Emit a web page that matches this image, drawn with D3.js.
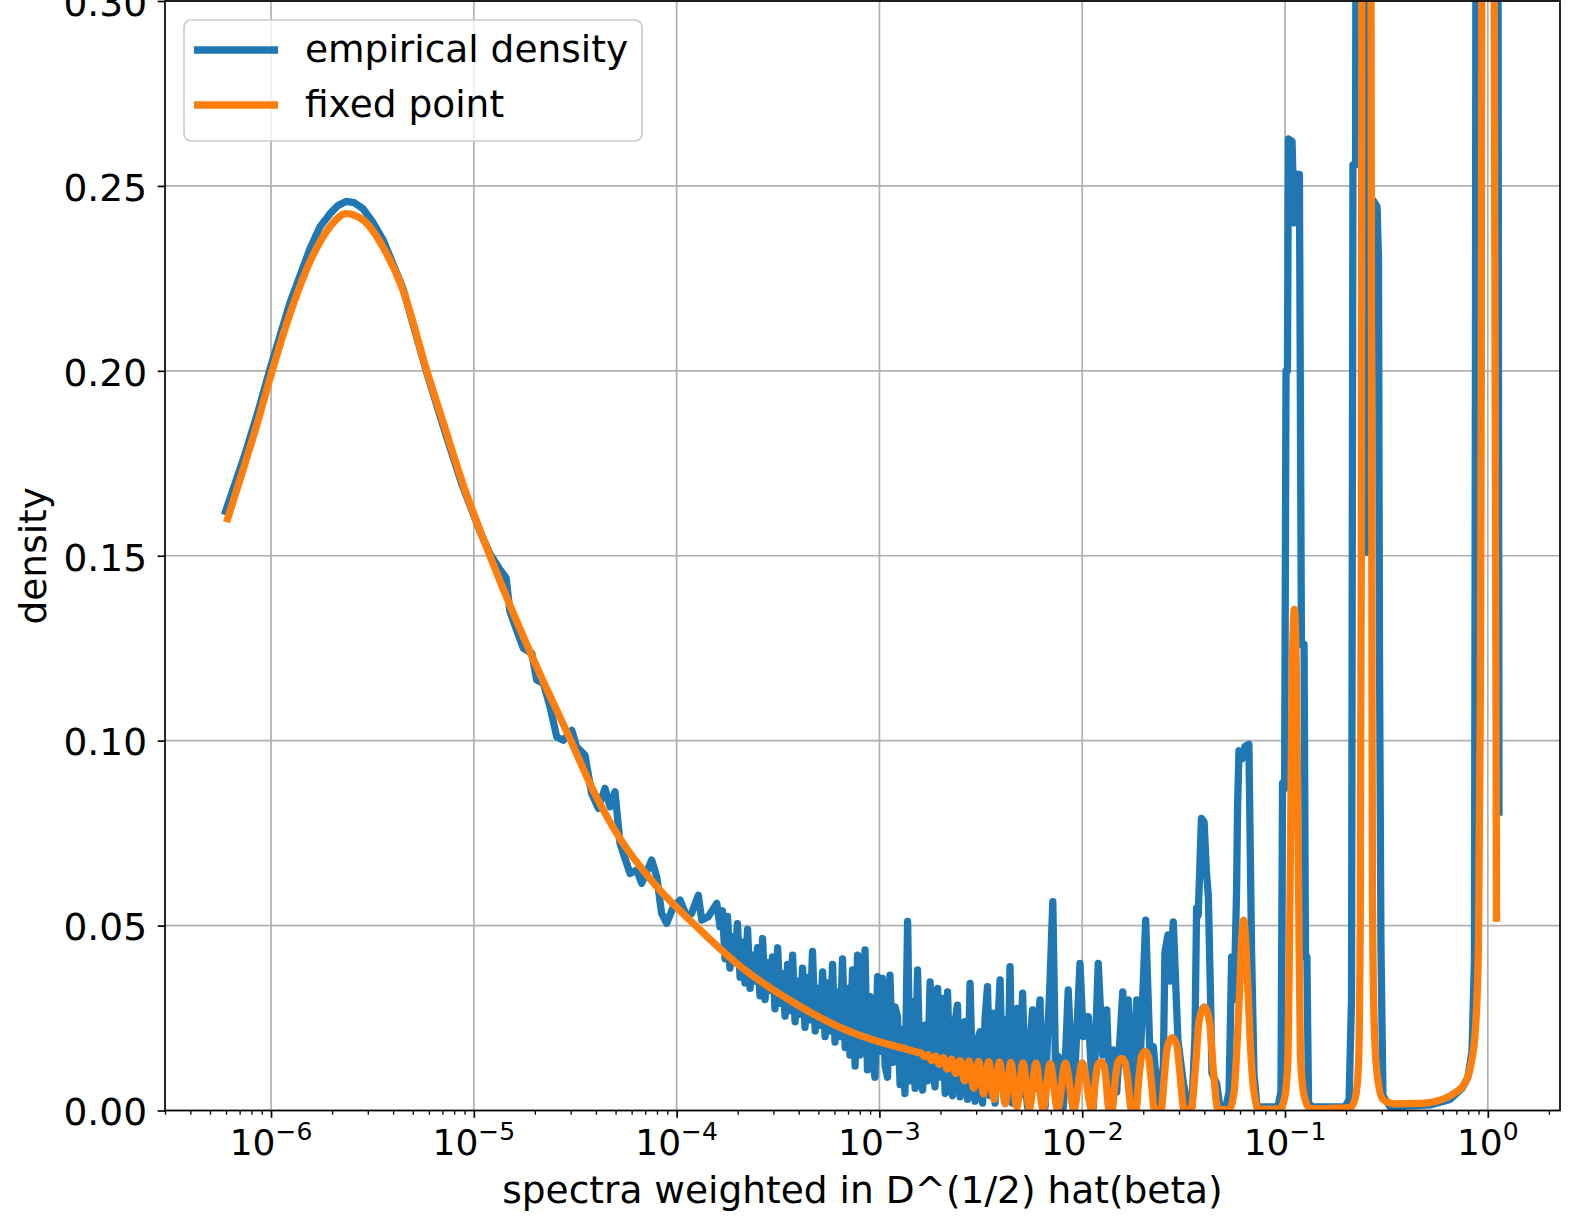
<!DOCTYPE html>
<html>
<head>
<meta charset="utf-8">
<script src="https://cdnjs.cloudflare.com/ajax/libs/d3/7.8.5/d3.min.js"></script>
<style>
  body { margin: 0; background: #fff; }
  svg { display: block; font-family: "DejaVu Sans", sans-serif; }
</style>
</head>
<body>
<div id="chart"></div>
<script>
// Fixed point density: log10(x) and density
var fixedLogX = [
  -6.214, -6.128, -6.064, -6.005, -5.906, -5.808, -5.709, -5.630, -5.546, -5.448,
  -5.349, -5.232, -5.142, -5.060, -4.920, -4.805, -4.674, -4.526, -4.411, -4.279,
  -4.115, -3.901, -3.687, -3.441, -3.145, -2.997, -2.880, -2.815,
  -2.796, -2.778, -2.760, -2.742, -2.723, -2.704, -2.685, -2.665,
  -2.644, -2.623, -2.602, -2.580, -2.558, -2.535, -2.511, -2.486, -2.461, -2.435,
  -2.408, -2.380, -2.352, -2.322, -2.292, -2.260, -2.228, -2.193, -2.158, -2.121,
  -2.083, -2.041, -2.000,
  -1.952, -1.934, -1.925, -1.908, -1.892, -1.883, -1.868,
  -1.853, -1.836, -1.824, -1.806, -1.789, -1.777, -1.757,
  -1.735, -1.720, -1.708, -1.690, -1.673, -1.661, -1.644,
  -1.611, -1.594, -1.579, -1.556, -1.533, -1.518, -1.498,
  -1.464, -1.441, -1.424, -1.398, -1.372, -1.355, -1.330,
  -1.276, -1.251, -1.239, -1.224, -1.214, -1.204, -1.194, -1.182, -1.168, -1.153, -1.128,
  -1.025, -1.000, -0.985, -0.975, -0.965, -0.954, -0.943, -0.933, -0.924, -0.906, -0.877,
  -0.778, -0.680, -0.655, -0.638, -0.629, -0.624, -0.621, -0.601, -0.576, -0.572,
  -0.569, -0.561, -0.546, -0.517, -0.458, -0.334, -0.236, -0.162, -0.112, -0.083,
  -0.061, -0.046, -0.037, -0.032, -0.030, 0.001, 0.031, 0.043
];
var fixedY = [
  0.160, 0.175, 0.1865, 0.198, 0.2155, 0.2295, 0.2390, 0.2425, 0.2408, 0.2335,
  0.2218, 0.2000, 0.1845, 0.1704, 0.1499, 0.1344, 0.1180, 0.1005, 0.0865, 0.0735,
  0.0616, 0.0497, 0.0390, 0.0298, 0.0213, 0.0185, 0.0168, 0.0158,
  0.0156, 0.0146, 0.0151, 0.0135, 0.0147, 0.0125, 0.0143, 0.0112,
  0.0139, 0.0100, 0.0135, 0.0080, 0.0134, 0.0060, 0.0133, 0.0045, 0.0132, 0.0030,
  0.0131, 0.0018, 0.0130, 0.0010, 0.0129, 0.0006, 0.0128, 0.0004, 0.0127, 0.0003,
  0.0128, 0.0003, 0.0129,
  0.0002, 0.0085, 0.0120, 0.0132, 0.0120, 0.0085, 0.0002,
  0.0002, 0.0090, 0.0130, 0.0141, 0.0130, 0.0090, 0.0002,
  0.0002, 0.0090, 0.0145, 0.0160, 0.0145, 0.0090, 0.0002,
  0.0002, 0.0100, 0.0175, 0.0197, 0.0175, 0.0100, 0.0002,
  0.0002, 0.0120, 0.0240, 0.0280, 0.0240, 0.0120, 0.0002,
  0.0003, 0.0050, 0.0150, 0.0320, 0.0460, 0.0515, 0.0460, 0.0320, 0.0150, 0.0050, 0.0003,
  0.0004, 0.0040, 0.0150, 0.0600, 0.1150, 0.1355, 0.1150, 0.0600, 0.0150, 0.0040, 0.0005,
  0.0006, 0.0008, 0.0030, 0.0120, 0.0500, 0.1500, 0.3100, 0.6000, 0.3100, 0.1500,
  0.0600, 0.0250, 0.0100, 0.0030, 0.0018, 0.0019, 0.0028, 0.0048, 0.0075, 0.0125,
  0.0220, 0.0450, 0.1100, 0.2000, 0.3100, 0.9000, 0.3100, 0.0520
];

// Empirical density: log10(x) and density
var empiricalLogX = [
  // smooth body
  -6.224, -6.128, -6.064, -6.005, -5.906, -5.808, -5.758, -5.709, -5.670, -5.630,
  -5.591, -5.546, -5.502, -5.448, -5.349, -5.232, -5.142, -5.060, -4.969, -4.920,
  -4.871, -4.841, -4.822, -4.789, -4.756, -4.714, -4.690, -4.657, -4.624, -4.591,
  -4.559, -4.517, -4.493, -4.452, -4.419, -4.386, -4.353, -4.328, -4.304, -4.279,
  -4.230, -4.197, -4.172, -4.123, -4.098, -4.074, -4.049, -4.016, -3.983, -3.950,
  -3.926, -3.893, -3.876, -3.844, -3.802, -3.786,
  // noisy band up to 1e-3
  -3.774, -3.761, -3.749, -3.737, -3.724, -3.712, -3.700, -3.687, -3.675, -3.663,
  -3.650, -3.638, -3.626, -3.613, -3.601, -3.589, -3.576, -3.564, -3.552, -3.539,
  -3.527, -3.515, -3.502, -3.490, -3.478, -3.465, -3.453, -3.441, -3.428, -3.416,
  -3.404, -3.391, -3.379, -3.367, -3.354, -3.342, -3.330, -3.317, -3.305, -3.293,
  -3.280, -3.268, -3.256, -3.243, -3.231, -3.219, -3.206, -3.194, -3.182, -3.169,
  -3.157, -3.145,
  // noisy band 1e-3 to 1e-2
  -3.133, -3.120, -3.108, -3.096, -3.083, -3.071, -3.059, -3.046, -3.034, -3.022,
  -3.009, -2.997, -2.985, -2.972, -2.960, -2.948, -2.935, -2.923, -2.911, -2.898,
  -2.886, -2.874, -2.861, -2.849, -2.837, -2.824, -2.812, -2.800, -2.787, -2.775,
  -2.763, -2.750, -2.738, -2.726, -2.713, -2.701, -2.689, -2.676, -2.664, -2.652,
  -2.639, -2.627, -2.615, -2.602, -2.590, -2.578, -2.565, -2.553, -2.541, -2.528,
  -2.516, -2.504, -2.491, -2.479, -2.467, -2.455, -2.442, -2.430, -2.418, -2.405,
  -2.393, -2.381, -2.368, -2.356, -2.344, -2.331, -2.319, -2.307, -2.294, -2.282,
  -2.270, -2.257, -2.245, -2.233, -2.220, -2.208, -2.196, -2.183, -2.171, -2.159,
  // clusters
  -2.145, -2.129, -2.118, -2.093, -2.069, -2.044, -2.011, -1.995, -1.970, -1.945,
  -1.921, -1.899, -1.879, -1.863, -1.847, -1.830, -1.800, -1.784, -1.773, -1.751,
  -1.731, -1.715, -1.687, -1.666, -1.649, -1.625, -1.600, -1.592, -1.577, -1.567,
  -1.551, -1.528, -1.501, -1.478,
  -1.459, -1.444, -1.436, -1.428, -1.419, -1.412, -1.399, -1.387, -1.378, -1.367,
  -1.360, -1.337, -1.321,
  -1.291, -1.276, -1.263, -1.251, -1.239, -1.234, -1.227, -1.212, -1.197, -1.178,
  -1.165, -1.153, -1.138,
  -1.035, -1.020, -1.012, -1.002, -0.995, -0.988, -0.983, -0.965, -0.956, -0.943,
  -0.929, -0.919, -0.906, -0.899, -0.892, -0.884, -0.867,
  -0.704, -0.684, -0.672, -0.665, -0.652, -0.647, -0.606, -0.598, -0.591, -0.564,
  -0.546, -0.539, -0.534, -0.527, -0.517, -0.482,
  -0.285, -0.186, -0.127, -0.098, -0.078, -0.066, -0.061, -0.056, 0.048, 0.055
];
var empiricalY = [
  0.162, 0.1775, 0.189, 0.2005, 0.2185, 0.2330, 0.2390, 0.2425, 0.2447, 0.2458,
  0.2455, 0.2438, 0.2405, 0.2355, 0.2222, 0.1995, 0.1835, 0.1695, 0.1565, 0.1505,
  0.1462, 0.1440, 0.1350, 0.1299, 0.1250, 0.1236, 0.1164, 0.1155, 0.1091, 0.1010,
  0.1001, 0.1028, 0.0983, 0.0961, 0.0857, 0.0817, 0.0871, 0.0821, 0.0862, 0.0722,
  0.0641, 0.0650, 0.0614, 0.0677, 0.0632, 0.0533, 0.0506, 0.0551, 0.0569, 0.0524,
  0.0533, 0.0582, 0.0515, 0.0524, 0.0560, 0.0497,

  0.0540, 0.0410, 0.0525, 0.0385, 0.0470, 0.0400, 0.0505, 0.0360, 0.0455, 0.0345,
  0.0490, 0.0330, 0.0420, 0.0350, 0.0440, 0.0310, 0.0465, 0.0300, 0.0400, 0.0325,
  0.0415, 0.0275, 0.0440, 0.0290, 0.0370, 0.0255, 0.0395, 0.0270, 0.0420, 0.0240,
  0.0350, 0.0260, 0.0385, 0.0225, 0.0360, 0.0245, 0.0430, 0.0215, 0.0330, 0.0230,
  0.0375, 0.0200, 0.0345, 0.0215, 0.0395, 0.0185, 0.0320, 0.0200, 0.0410, 0.0170,
  0.0330, 0.0150,

  0.0380, 0.0120, 0.0420, 0.0150, 0.0300, 0.0434, 0.0110, 0.0308, 0.0140, 0.0090,
  0.0362, 0.0160, 0.0357, 0.0120, 0.0090, 0.0366, 0.0130, 0.0280, 0.0254, 0.0070,
  0.0220, 0.0046, 0.0511, 0.0080, 0.0294, 0.0060, 0.0380, 0.0100, 0.0055, 0.0231,
  0.0080, 0.0348, 0.0120, 0.0064, 0.0330, 0.0090, 0.0303, 0.0046, 0.0321, 0.0070,
  0.0040, 0.0240, 0.0285, 0.0037, 0.0180, 0.0240, 0.0030, 0.0344, 0.0080, 0.0025,
  0.0190, 0.0213, 0.0020, 0.0250, 0.0335, 0.0040, 0.0263, 0.0020, 0.0210, 0.0353,
  0.0060, 0.0245, 0.0030, 0.0389, 0.0020, 0.0150, 0.0276, 0.0040, 0.0317, 0.0090,
  0.0010, 0.0180, 0.0272, 0.0060, 0.0220, 0.0299, 0.0030, 0.0010, 0.0200, 0.0344,

  0.0565, 0.0020, 0.0146, 0.0010, 0.0326, 0.0010, 0.0398, 0.0200, 0.0254, 0.0010,
  0.0398, 0.0150, 0.0272, 0.0010, 0.0164, 0.0050, 0.0321, 0.0120, 0.0299, 0.0010,
  0.0299, 0.0120, 0.0515, 0.0150, 0.0173, 0.0010, 0.0120, 0.0429, 0.0475, 0.0350,
  0.0510, 0.0190, 0.0073, 0.0010,
  0.0010, 0.0200, 0.0547, 0.0528, 0.0677, 0.0790, 0.0780, 0.0640, 0.0580, 0.0300,
  0.0100, 0.0073, 0.0010,
  0.0010, 0.0050, 0.0415, 0.0300, 0.0590, 0.0816, 0.0973, 0.0950, 0.0985, 0.0990,
  0.0434, 0.0100, 0.0010,
  0.0010, 0.0050, 0.0885, 0.0870, 0.2000, 0.2000, 0.2627, 0.2620, 0.2400, 0.2531,
  0.2531, 0.1260, 0.1260, 0.0415, 0.0415, 0.0020, 0.0010,
  0.0010, 0.0030, 0.0300, 0.2557, 0.2557, 0.4500, 0.4500, 0.1510, 0.1510, 0.2460,
  0.2444, 0.2300, 0.1220, 0.0450, 0.0040, 0.0010,
  0.0015, 0.0030, 0.0060, 0.0090, 0.0160, 0.0400, 0.2000, 0.4500, 0.4500, 0.0807
];

var seriesNames = ["empirical density", "fixed point"];
var yTicks = [0, 0.05, 0.10, 0.15, 0.20, 0.25, 0.30];
var xTickExponents = [-6, -5, -4, -3, -2, -1, 0];

// Styles
var colors = { empirical: "#1f77b4", fixed: "#ff7f0e", grid: "#b0b0b0" };
var lineWidth = 7.3,
    fontSize = 37.5;

// Plot area
var width = 1579, height = 1230;
var plot = { left: 165, right: 1560, top: 1, bottom: 1110.5 };

var x = d3.scaleLog()
  .domain([3e-7, 2.27])
  .range([plot.left, plot.right]);

var y = d3.scaleLinear()
  .domain([0, 0.30])
  .range([plot.bottom, plot.top]);

function zip(logXs, ys) {
  return logXs.map(function(lx, i) { return { x: Math.pow(10, lx), y: ys[i] }; });
}

var empirical = zip(empiricalLogX, empiricalY),
    fixed = zip(fixedLogX, fixedY);

var svg = d3.select("#chart").append("svg")
  .attr("width", width)
  .attr("height", height);

svg.append("defs").append("clipPath")
  .attr("id", "plot-clip")
  .append("rect")
    .attr("x", plot.left)
    .attr("y", plot.top)
    .attr("width", plot.right - plot.left)
    .attr("height", plot.bottom - plot.top);

// Grid
var majorX = xTickExponents.map(function(e) { return Math.pow(10, e); });

svg.append("g").selectAll("line.vgrid")
  .data(majorX).enter()
  .append("line")
    .attr("x1", function(d) { return x(d); })
    .attr("x2", function(d) { return x(d); })
    .attr("y1", plot.top)
    .attr("y2", plot.bottom)
    .attr("stroke", colors.grid)
    .attr("stroke-width", 1.7);

svg.append("g").selectAll("line.hgrid")
  .data(yTicks).enter()
  .append("line")
    .attr("x1", plot.left)
    .attr("x2", plot.right)
    .attr("y1", function(d) { return y(d); })
    .attr("y2", function(d) { return y(d); })
    .attr("stroke", colors.grid)
    .attr("stroke-width", 1.7);

// Lines
var content = svg.append("g").attr("clip-path", "url(#plot-clip)");

var empiricalLine = d3.line()
  .x(function(d) { return x(d.x); })
  .y(function(d) { return y(d.y); });

var fixedLine = d3.line()
  .curve(d3.curveMonotoneX)
  .x(function(d) { return x(d.x); })
  .y(function(d) { return y(d.y); });

content.append("path")
  .datum(empirical)
  .attr("d", empiricalLine)
  .attr("fill", "none")
  .attr("stroke", colors.empirical)
  .attr("stroke-width", lineWidth)
  .attr("stroke-linejoin", "round")
  .attr("stroke-linecap", "square");

content.append("path")
  .datum(fixed)
  .attr("d", fixedLine)
  .attr("fill", "none")
  .attr("stroke", colors.fixed)
  .attr("stroke-width", lineWidth)
  .attr("stroke-linejoin", "round")
  .attr("stroke-linecap", "square");

// Spines
svg.append("rect")
  .attr("x", plot.left)
  .attr("y", plot.top)
  .attr("width", plot.right - plot.left)
  .attr("height", plot.bottom - plot.top)
  .attr("fill", "none")
  .attr("stroke", "#000")
  .attr("stroke-width", 1.7);

// Y axis
var yAxis = svg.append("g")
  .attr("transform", "translate(" + plot.left + ",0)")
  .call(d3.axisLeft(y).tickValues(yTicks).tickFormat(d3.format(".2f")).tickSize(7.3).tickPadding(10.7));

yAxis.select(".domain").remove();
yAxis.selectAll(".tick line").attr("stroke", "#000").attr("stroke-width", 1.7);
yAxis.selectAll(".tick text")
  .attr("dy", "0.38em")
  .attr("fill", "#000")
  .style("font-size", fontSize + "px")
  .style("font-family", "DejaVu Sans");

// X axis: major and minor ticks
var minorX = x.ticks().filter(function(d) {
  var e = Math.log10(d);
  return Math.abs(e - Math.round(e)) > 1e-6;
});

var xMinor = svg.append("g")
  .attr("transform", "translate(0," + plot.bottom + ")")
  .call(d3.axisBottom(x).tickValues(minorX).tickFormat("").tickSize(4.2));
xMinor.select(".domain").remove();
xMinor.selectAll(".tick line").attr("stroke", "#000").attr("stroke-width", 1.3);

var xMajor = svg.append("g")
  .attr("transform", "translate(0," + plot.bottom + ")")
  .call(d3.axisBottom(x).tickValues(majorX).tickFormat("").tickSize(7.3));
xMajor.select(".domain").remove();
xMajor.selectAll(".tick line").attr("stroke", "#000").attr("stroke-width", 1.7);

// Tick labels as 10^e
var xLabels = svg.append("g").selectAll("text")
  .data(xTickExponents).enter()
  .append("text")
    .attr("x", function(e) { return x(Math.pow(10, e)); })
    .attr("y", 1155)
    .attr("text-anchor", "middle")
    .attr("fill", "#000");

xLabels.append("tspan")
  .style("font-size", "36px")
  .text("10");

xLabels.append("tspan")
  .attr("dy", -15)
  .style("font-size", "25px")
  .text(function(e) { return e < 0 ? "\u2212" + (-e) : String(e); });

// Axis labels
svg.append("text")
  .attr("x", (plot.left + plot.right) / 2)
  .attr("y", 1203)
  .attr("text-anchor", "middle")
  .style("font-size", fontSize + "px")
  .text("spectra weighted in D^(1/2) hat(beta)");

svg.append("text")
  .attr("transform", "translate(46," + ((plot.top + plot.bottom) / 2) + ") rotate(-90)")
  .attr("text-anchor", "middle")
  .style("font-size", fontSize + "px")
  .text("density");

// Legend
var legend = svg.append("g");

legend.append("rect")
  .attr("x", 184)
  .attr("y", 20)
  .attr("width", 458)
  .attr("height", 121)
  .attr("rx", 7)
  .attr("fill", "#fff")
  .attr("fill-opacity", 0.8)
  .attr("stroke", "#cccccc")
  .attr("stroke-width", 1.7);

var legendRows = legend.selectAll("g.row")
  .data(seriesNames).enter()
  .append("g")
    .attr("transform", function(d, i) { return "translate(0," + (50 + i * 55) + ")"; });

legendRows.append("line")
  .attr("x1", 194)
  .attr("x2", 278)
  .attr("stroke", function(d, i) { return i == 0 ? colors.empirical : colors.fixed; })
  .attr("stroke-width", lineWidth);

legendRows.append("text")
  .attr("x", 305)
  .attr("y", 11.5)
  .style("font-size", fontSize + "px")
  .text(function(d) { return d; });
</script>
</body>
</html>
